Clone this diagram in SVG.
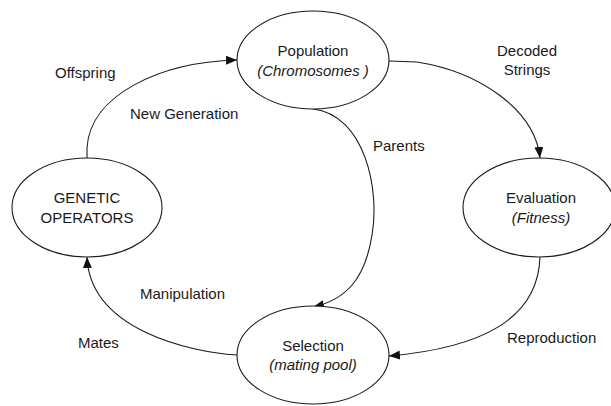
<svg xmlns="http://www.w3.org/2000/svg" width="611" height="406" viewBox="0 0 611 406">
<style>
  .node ellipse { fill: #ffffff; stroke: #1a1a1a; stroke-width: 1.1; }
  text { font-family: "Liberation Sans", Arial, sans-serif; font-size: 15px; fill: #1a1a1a; }
  .c { text-anchor: middle; }
  .i { font-style: italic; }
  .edge { fill: none; stroke: #1a1a1a; stroke-width: 1.1; marker-end: url(#arrow); }
</style>
<defs>
  <marker id="arrow" markerWidth="12" markerHeight="10" refX="11" refY="4.5" orient="auto" markerUnits="userSpaceOnUse">
    <path d="M0,0 L11,4.5 L0,9 Z" fill="#111111"/>
  </marker>
</defs>
<rect width="611" height="406" fill="#ffffff"/>
<g id="connectors">
  <path class="edge" d="M87,158 L87,148 C90,95 160,62 237,60"/>
  <path class="edge" d="M389,61 L417,62 C480,72 535,110 540,158"/>
  <path class="edge" d="M313,109 C365,115 380,190 372,235 C365,280 345,300 313,307"/>
  <path class="edge" d="M540,257 C538,320 480,348 389,356"/>
  <path class="edge" d="M237,355 C190,352 90,330 87,257"/>
</g>
<g id="node-population" class="node">
  <ellipse cx="313" cy="60" rx="76" ry="49"/>
  <text class="c" x="313" y="56">Population</text>
  <text class="c i" x="313" y="76">(Chromosomes )</text>
</g>
<g id="node-evaluation" class="node">
  <ellipse cx="539" cy="207.5" rx="76" ry="49.5"/>
  <text class="c" x="541" y="203">Evaluation</text>
  <text class="c i" x="541" y="223">(Fitness)</text>
</g>
<g id="node-selection" class="node">
  <ellipse cx="313" cy="355" rx="76" ry="49"/>
  <text class="c" x="313" y="351">Selection</text>
  <text class="c i" x="313" y="370">(mating pool)</text>
</g>
<g id="node-genetic" class="node">
  <ellipse cx="87" cy="207.5" rx="75" ry="49.5"/>
  <text class="c" x="87" y="203">GENETIC</text>
  <text class="c" x="87" y="223">OPERATORS</text>
</g>
<g id="labels">
  <text x="55" y="78">Offspring</text>
  <text x="130" y="119">New Generation</text>
  <text class="c" x="527" y="56">Decoded</text>
  <text class="c" x="527" y="75">Strings</text>
  <text x="373" y="151">Parents</text>
  <text x="507" y="343">Reproduction</text>
  <text x="140" y="299">Manipulation</text>
  <text x="78" y="348">Mates</text>
</g>
</svg>
